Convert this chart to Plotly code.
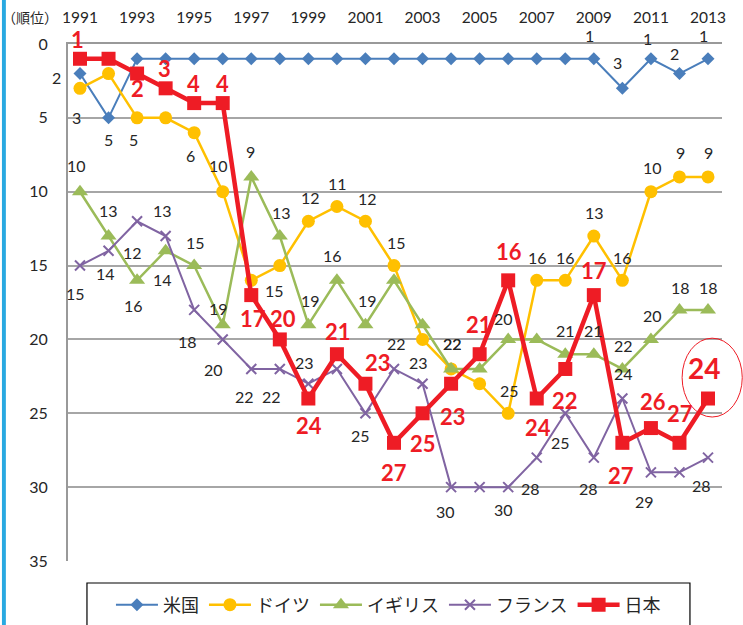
import plotly.graph_objects as go

years = list(range(1991, 2014))
names = ["米国", "ドイツ", "イギリス", "フランス", "日本"]
usa = [2, 5, 1, 1, 1, 1, 1, 1, 1, 1, 1, 1, 1, 1, 1, 1, 1, 1, 1, 3, 1, 2, 1]
germany = [3, 2, 5, 5, 6, 10, 16, 15, 12, 11, 12, 15, 20, 22, 23, 25, 16, 16, 13, 16, 10, 9, 9]
uk = [10, 13, 16, 14, 15, 19, 9, 13, 19, 16, 19, 16, 19, 22, 22, 20, 20, 21, 21, 22, 20, 18, 18]
france = [15, 14, 12, 13, 18, 20, 22, 22, 23, 22, 25, 22, 23, 30, 30, 30, 28, 25, 28, 24, 29, 29, 28]
japan = [1, 1, 2, 3, 4, 4, 17, 20, 24, 21, 23, 27, 25, 23, 21, 16, 24, 22, 17, 27, 26, 27, 24]
tick_years = list(range(1991, 2014, 2))
rank_ticks = [0, 5, 10, 15, 20, 25, 30, 35]

series = [usa, germany, uk, france, japan]
colors = ["#4A7EBB", "#FFC000", "#9BBB59", "#8064A2", "#EE1C25"]
widths = [2, 2.5, 2.5, 2, 4.5]
symbols = ["diamond", "circle", "triangle-up", "x-thin-open", "square"]
msizes = [10, 13, 14, 10, 14]

# label offsets (index, dx, dy) in pixels, dy downward
label_offsets = [
    [(0, -23, 4), (1, 0, 22), (18, -4, -23), (19, -5, -26), (20, -3, -20), (21, -5, -20), (22, -5, -23)],
    [(0, -3, 29), (2, -4, 22), (4, -4, 23), (5, -4, -26), (7, -5, 25), (8, 2, -24), (9, 1, -23),
     (10, 2, -23), (11, 2, -23), (13, 1, -25), (15, 1, -23), (16, 1, -23), (17, 0, -23),
     (18, 1, -24), (19, 0, -23), (20, 2, -24), (21, 1, -24), (22, 0, -24)],
    [(0, -3, -26), (1, 0, -26), (2, -4, 25), (3, -3, 29), (4, 1, -23), (5, -4, -16), (6, -1, -25),
     (7, 2, -24), (8, 2, -24), (9, -4, -25), (10, 2, -24), (13, 1, -25), (15, -5, -21),
     (17, 0, -24), (18, 0, -24), (19, 1, -23), (20, 2, -24), (21, 1, -22), (22, 0, -22)],
    [(0, -4, 28), (1, -3, 23), (2, -5, 31), (3, -3, -26), (4, -7, 32), (5, -9, 30), (6, -7, 28),
     (7, -8, 28), (8, -4, -21), (10, -5, 22), (11, 2, -25), (12, -4, -21), (13, -6, 24),
     (15, -5, 22), (16, -6, 31), (17, -5, 29), (18, -5, 31), (19, 1, -25), (20, -6, 29), (22, -7, 28)],
    [(0, -2, -19), (2, 0, 15), (3, -1, -20), (4, -1, -20), (5, 0, -20), (6, 2, 23), (7, 3, -21),
     (8, 1, 27), (9, 1, -23), (10, 13, -21), (11, 0, 30), (12, 0, 30), (13, 2, 33), (14, -1, -30),
     (15, 1, -29), (16, 1, 29), (17, 0, 32), (18, 0, -25), (19, -1, 33), (20, 2, -27), (21, 1, -29)],
]

fig = go.Figure()
for name, vals, c, w, s, ms in zip(names, series, colors, widths, symbols, msizes):
    marker = dict(symbol=s, size=ms, color=c)
    if s == "x-thin-open":
        marker["line"] = dict(width=2, color=c)
    fig.add_trace(go.Scatter(x=years, y=vals, name=name, mode="lines+markers",
                             line=dict(color=c, width=w), marker=marker, cliponaxis=False))

annotations = []
for k, (vals, offs) in enumerate(zip(series, label_offsets)):
    for i, dx, dy in offs:
        if k == 4:
            font = dict(family="Lato, Noto Sans", size=22, color="#EE1C25", weight="bold")
        else:
            font = dict(family="Lato, Noto Sans", size=16, color="#262626")
        annotations.append(dict(x=years[i], y=vals[i], text=str(vals[i]), showarrow=False,
                                xshift=dx, yshift=-dy, font=font, xref="x", yref="y"))
# emphasised last Japan label
annotations.append(dict(x=years[-1], y=japan[-1], text=str(japan[-1]), showarrow=False,
                        xshift=-4, yshift=31, xref="x", yref="y",
                        font=dict(family="Lato, Noto Sans", size=28, color="#EE1C25", weight="bold")))
annotations.append(dict(x=-0.104, y=1.052, xref="paper", yref="paper", text="（順位）", showarrow=False,
                        xanchor="left", yanchor="middle",
                        font=dict(family="Noto Sans CJK JP", size=14, color="#262626")))

fig.update_layout(
    width=743, height=625,
    margin=dict(l=68, r=21, t=44, b=64, autoexpand=False),
    paper_bgcolor="white", plot_bgcolor="white",
    annotations=annotations,
    showlegend=True,
    legend=dict(orientation="h", x=0.49, xanchor="center", xref="paper",
                y=0.032, yanchor="middle", yref="container",
                bgcolor="rgba(0,0,0,0)", borderwidth=0, itemwidth=42,
                font=dict(family="Noto Sans CJK JP", size=18, color="#262626"),
                tracegroupgap=0),
    shapes=[
        dict(type="rect", xref="paper", yref="paper", x0=-0.101, x1=-0.095, y0=-0.13, y1=1.09,
             fillcolor="#29A9E1", line=dict(width=0), layer="above"),
        dict(type="rect", xref="paper", yref="paper", x0=0.029, x1=0.951, y0=-0.0426, y1=-0.14,
             fillcolor="rgba(0,0,0,0)", line=dict(color="#000000", width=1.2)),
        dict(type="circle", xref="paper", yref="paper", x0=0.939, x1=1.031, y0=0.2785, y1=0.431,
             line=dict(color="#EE1C25", width=1)),
    ],
)
fig.update_xaxes(side="top", range=[1990.58, 2013.49], tickvals=tick_years,
                 ticktext=[str(t) for t in tick_years], showgrid=False, automargin=False,
                 showline=True, linecolor="#999999", linewidth=2,
                 ticks="outside", ticklen=13, tickcolor="rgba(0,0,0,0)",
                 tickfont=dict(family="Lato, Noto Sans", size=15.5, color="#262626"), zeroline=False)
fig.update_yaxes(range=[35, 0], tickvals=rank_ticks, showgrid=True, gridcolor="#A6A6A6", gridwidth=1.5,
                 showline=True, linecolor="#999999", linewidth=2, automargin=False,
                 ticks="outside", ticklen=15, tickcolor="rgba(0,0,0,0)",
                 tickfont=dict(family="Lato, Noto Sans", size=16, color="#262626"), zeroline=False)

fig.write_html("out.html", config={"displayModeBar": False},
               post_script="document.body.style.margin='0px';document.body.style.overflow='hidden';")
